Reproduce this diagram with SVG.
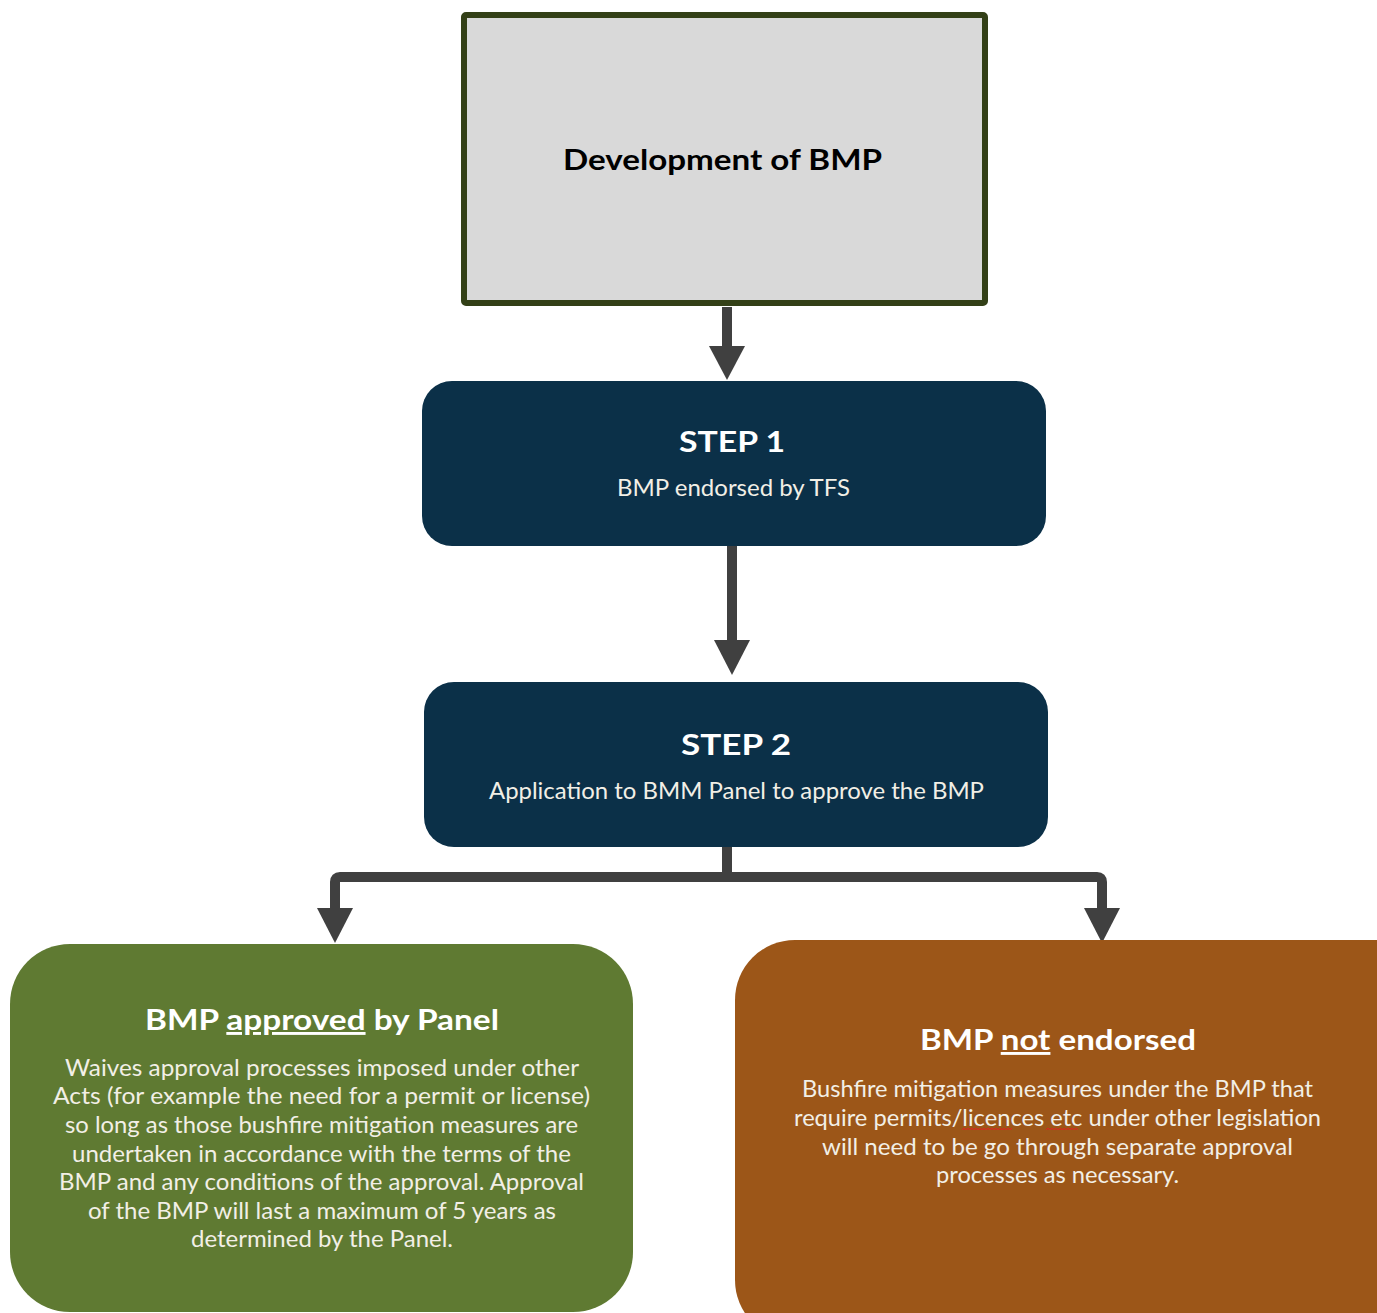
<svg xmlns="http://www.w3.org/2000/svg" width="1377" height="1313" viewBox="0 0 1377 1313">
<defs>
<style>
.t{font-family:Lato,"Open Sans","Liberation Sans",sans-serif;text-anchor:middle}
.h{font-weight:700;font-size:29px}
.b{font-weight:400;font-size:22.5px}
.w{fill:#ffffff}
.wl{fill:#f2efe6}
.conn{fill:none;stroke:#404040;stroke-width:10}
.head{fill:#404040}
</style>
</defs>
<rect width="1377" height="1313" fill="#ffffff"/>
<g id="connectors">
<line class="conn" x1="727" y1="307" x2="727" y2="350"/>
<polygon class="head" points="709,346 745,346 727,380"/>
<line class="conn" x1="732" y1="546" x2="732" y2="644"/>
<polygon class="head" points="714,640 750,640 732,675"/>
<path class="conn" d="M727,847 V877 M335,912 V882 Q335,877 340,877 H1097 Q1102,877 1102,882 V912"/>
<polygon class="head" points="317,908 353,908 335,943"/>
<polygon class="head" points="1084,908 1120,908 1102,943"/>
</g>
<g id="development">
<rect x="464" y="15" width="521" height="288" fill="#d9d9d9" stroke="#334017" stroke-width="6" rx="2"/>
<text class="t h" x="722.5" y="170" fill="#000000" textLength="319" lengthAdjust="spacingAndGlyphs">Development of BMP</text>
</g>
<g id="step1">
<rect x="422" y="381" width="624" height="165" rx="30" fill="#0b3048"/>
<text class="t h w" x="732" y="452" textLength="106" lengthAdjust="spacingAndGlyphs">STEP 1</text>
<text class="t b wl" x="733.5" y="496" textLength="233" lengthAdjust="spacingAndGlyphs">BMP endorsed by TFS</text>
</g>
<g id="step2">
<rect x="424" y="682" width="624" height="165" rx="30" fill="#0b3048"/>
<text class="t h w" x="736" y="755" textLength="110" lengthAdjust="spacingAndGlyphs">STEP 2</text>
<text class="t b wl" x="736.5" y="799" textLength="495" lengthAdjust="spacingAndGlyphs">Application to BMM Panel to approve the BMP</text>
</g>
<g id="approved">
<rect x="10" y="944" width="623" height="368" rx="60" fill="#5f7a32"/>
<text class="t h w" x="322" y="1030" textLength="354" lengthAdjust="spacingAndGlyphs">BMP <tspan text-decoration="underline">approved</tspan> by Panel</text>
<text class="t b wl" x="322" y="1076" textLength="514" lengthAdjust="spacingAndGlyphs">Waives approval processes imposed under other</text>
<text class="t b wl" x="321.5" y="1104" textLength="537" lengthAdjust="spacingAndGlyphs">Acts (for example the need for a permit or license)</text>
<text class="t b wl" x="321.5" y="1133" textLength="513" lengthAdjust="spacingAndGlyphs">so long as those bushfire mitigation measures are</text>
<text class="t b wl" x="321.5" y="1162" textLength="499" lengthAdjust="spacingAndGlyphs">undertaken in accordance with the terms of the</text>
<text class="t b wl" x="321.5" y="1190" textLength="525" lengthAdjust="spacingAndGlyphs">BMP and any conditions of the approval. Approval</text>
<text class="t b wl" x="322" y="1219" textLength="468" lengthAdjust="spacingAndGlyphs">of the BMP will last a maximum of 5 years as</text>
<text class="t b wl" x="322" y="1247" textLength="262" lengthAdjust="spacingAndGlyphs">determined by the Panel.</text>
</g>
<g id="notendorsed">
<rect x="735" y="940" width="700" height="400" rx="60" fill="#9c5618"/>
<text class="t h w" x="1058" y="1050" textLength="276" lengthAdjust="spacingAndGlyphs">BMP <tspan text-decoration="underline">not</tspan> endorsed</text>
<text class="t b wl" x="1057.5" y="1097" textLength="511" lengthAdjust="spacingAndGlyphs">Bushfire mitigation measures under the BMP that</text>
<text class="t b wl" x="1057.5" y="1126" textLength="527" lengthAdjust="spacingAndGlyphs">require permits/licences etc under other legislation</text>
<text class="t b wl" x="1057.5" y="1155" textLength="471" lengthAdjust="spacingAndGlyphs">will need to be go through separate approval</text>
<text class="t b wl" x="1057.5" y="1183" textLength="243" lengthAdjust="spacingAndGlyphs">processes as necessary.</text>
<path d="M962,1130 l2,-2 l2,2 l2,-2 l2,2 l2,-2 l2,2 l2,-2 l2,2 l2,-2 l2,2 l2,-2 l2,2 l2,-2 l2,2 l2,-2 l2,2 l2,-2 l2,2 l2,-2 l2,2 l2,-2 l2,2 l2,-2 l2,2 l2,-2 M1046,1130 l2,-2 l2,2 l2,-2 l2,2 l2,-2 l2,2 l2,-2 l2,2 l2,-2 l2,2 l2,-2 l2,2 l2,-2 l2,2 l2,-2 l2,2" fill="none" stroke="#e02020" stroke-width="1"/>
</g>
</svg>
